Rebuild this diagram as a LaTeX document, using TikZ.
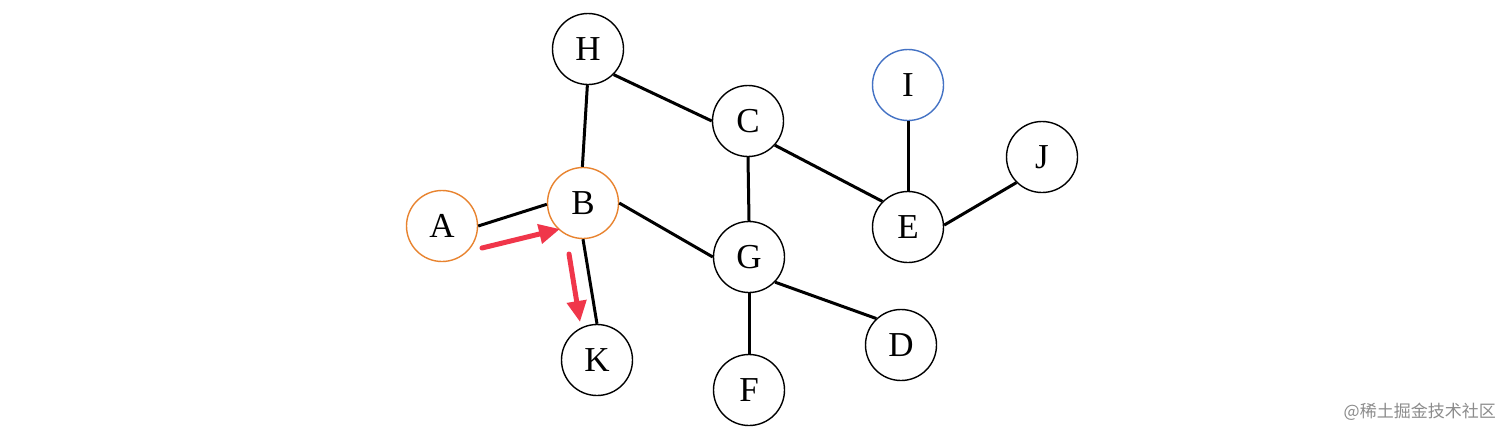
\documentclass[tikz,border=0pt]{standalone}
\usepackage{fontspec}
\setmainfont{Liberation Serif}
\newfontfamily\cjkfont{Noto Sans CJK SC}
\usetikzlibrary{arrows.meta}
\definecolor{orangeC}{HTML}{E8832F}
\definecolor{blueC}{HTML}{4472C4}
\definecolor{redC}{HTML}{F0364A}
\begin{document}
\begin{tikzpicture}[x=1pt,y=-1pt,
  vnode/.style={circle,draw=black,line width=1.4pt,minimum size=71pt,inner sep=0pt,fill=white,font=\fontsize{35}{35}\selectfont},
  orng/.style={draw=orangeC},
  blu/.style={draw=blueC},
  edge/.style={line width=3pt,black},
  redarrow/.style={line width=5pt,redC,line cap=round,-{Triangle[length=21pt,width=19pt]}}]
\useasboundingbox (0,0) rectangle (1512,440);
\fill[white] (0,0) rectangle (1512,440);
% nodes
\node[vnode,orng] (A) at (442,226) {A};
\node[vnode,orng] (B) at (583,203) {B};
\node[vnode] (H) at (588,49) {H};
\node[vnode] (C) at (748,121) {C};
\node[vnode,blu] (I) at (908,85) {I};
\node[vnode] (J) at (1042,157) {J};
\node[vnode] (E) at (908,227) {E};
\node[vnode] (G) at (749,257) {G};
\node[vnode] (K) at (597,360) {K};
\node[vnode] (D) at (901,345) {D};
\node[vnode] (F) at (749,390) {F};
% edges
\draw[edge] (A.0) -- (B.182);
\draw[edge] (H.-91) -- (B.91);
\draw[edge] (H.-45) -- (C.180);
\draw[edge] (B.0) -- (G.180);
\draw[edge] (B.-90) -- (K.90);
\draw[edge] (C.-90) -- (G.90);
\draw[edge] (C.-42) -- (E.135);
\draw[edge] (I.-90) -- (E.90);
\draw[edge] (E.3) -- (J.225);
\draw[edge] (G.-44) -- (D.133);
\draw[edge] (G.-90) -- (F.90);
% red arrows
\coordinate (r1s) at (482,248);
\coordinate (r1e) at (560,229);
\coordinate (r2s) at (569,254);
\coordinate (r2e) at (580,322);
\draw[redarrow] (r1s) -- (r1e);
\draw[redarrow] (r2s) -- (r2e);
% watermark
\node[anchor=east,text=black!45,font=\cjkfont\fontsize{17}{17}\selectfont,inner sep=0pt] (wm) at (1496,412) {@稀土掘金技术社区};
\end{tikzpicture}
\end{document}
